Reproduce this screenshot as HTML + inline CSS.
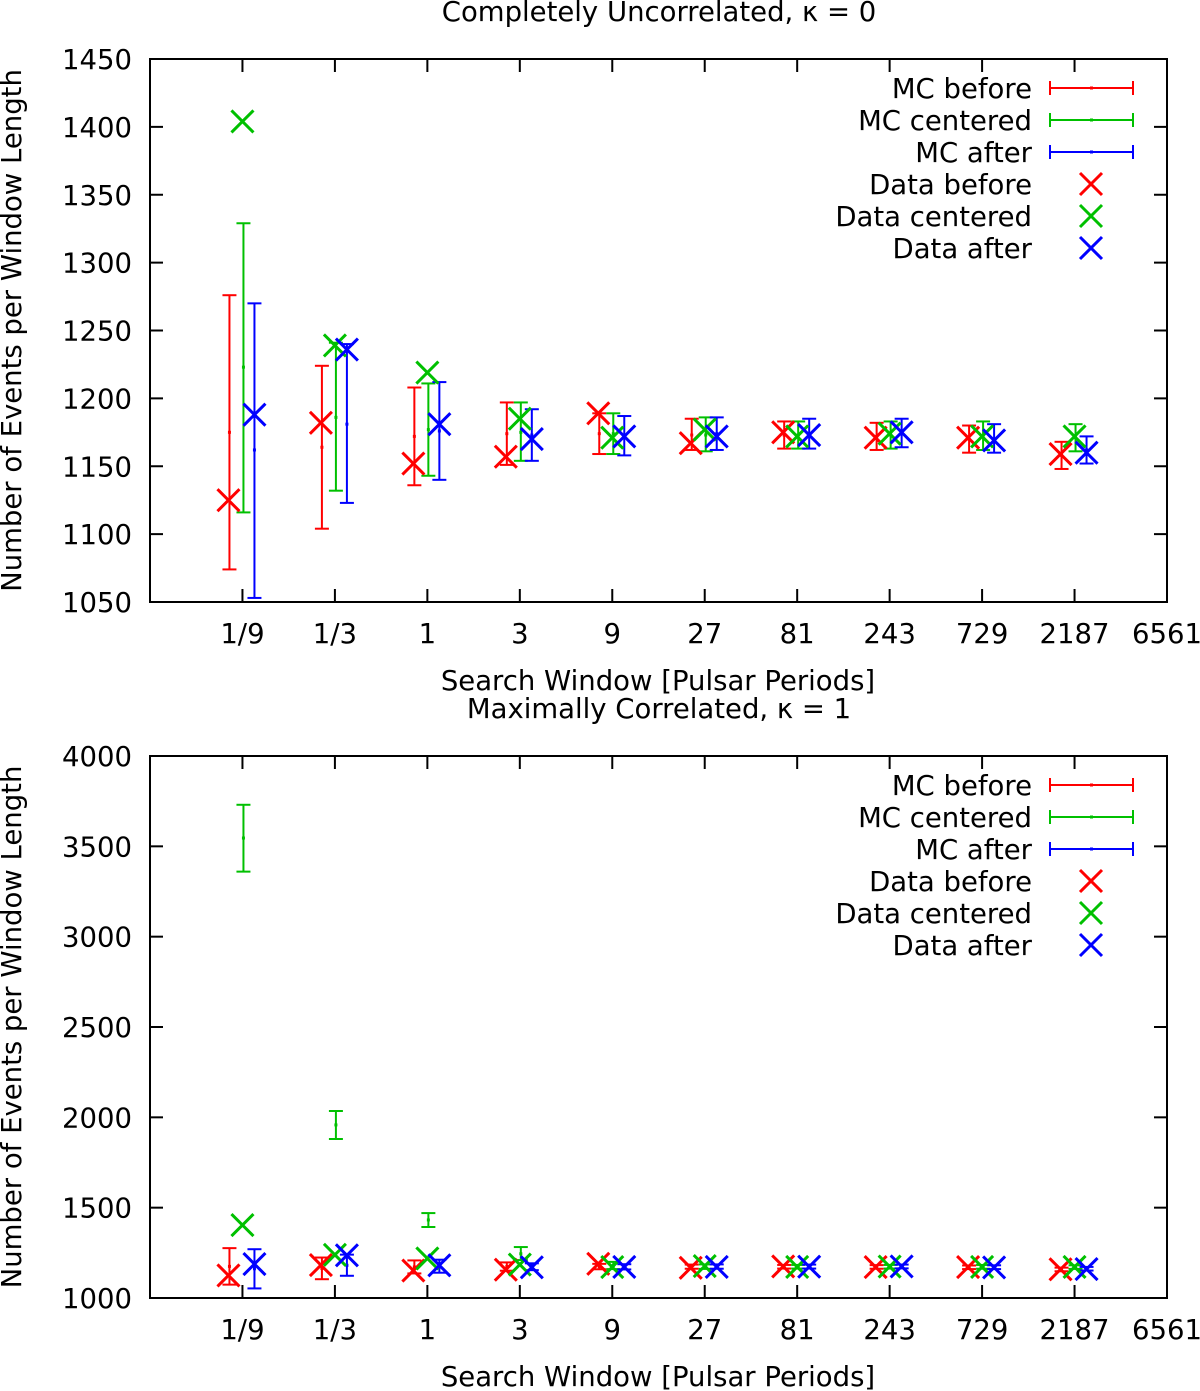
<!DOCTYPE html>
<html><head><meta charset="utf-8"><style>
html,body{margin:0;padding:0;background:#fff;}
svg{display:block;font-family:"DejaVu Sans","Liberation Sans",sans-serif;}
</style></head><body>
<svg id="chart" width="1200" height="1391" xmlns="http://www.w3.org/2000/svg"></svg>
<script>
const categories = ["1/9","1/3","1","3","9","27","81","243","729","2187","6561"];
// top panel MC: center, low, high
const mcBeforeC = [1175,1164,1172,1174,1174,1173,1173,1172,1170,1158];
const mcBeforeLo = [1074,1104,1136,1151,1159,1162,1163,1162,1160,1148];
const mcBeforeHi = [1276,1224,1208,1197,1189,1185,1183,1182,1180,1168];
const mcCenterC = [1223,1186,1177,1175,1174,1173,1173,1173,1172,1171];
const mcCenterLo = [1116,1132,1143,1154,1159,1161,1163,1163,1162,1161];
const mcCenterHi = [1329,1241,1211,1197,1189,1186,1183,1183,1183,1181];
const mcAfterC = [1162,1181,1176,1173,1172,1174,1174,1174,1170,1162];
const mcAfterLo = [1053,1123,1140,1154,1158,1162,1163,1164,1160,1152];
const mcAfterHi = [1270,1240,1212,1192,1187,1186,1185,1185,1181,1172];
// bottom panel MC centered
const mcCenter2C = [3546,1958,1432,1245,1180,1175,1173,1173,1172,1171];
const mcCenter2Lo = [3360,1880,1393,1210,1160,1161,1163,1163,1162,1161];
const mcCenter2Hi = [3730,2035,1470,1282,1200,1186,1183,1183,1183,1181];
// data points
const dataBefore = [1125,1182,1152,1157,1189,1167,1175,1171,1171,1159];
const dataCenter = [1404,1239,1219,1185,1171,1177,1172,1174,1172,1172];
const dataAfter = [1188,1236,1181,1170,1172,1172,1173,1175,1169,1160];
const yTicksTop = [1050,1100,1150,1200,1250,1300,1350,1400,1450];
const yTicksBot = [1000,1500,2000,2500,3000,3500,4000];

const NS="http://www.w3.org/2000/svg";
const svg=document.getElementById('chart');
function el(tag,attrs,parent){const e=document.createElementNS(NS,tag);for(const k in attrs)e.setAttribute(k,attrs[k]);(parent||svg).appendChild(e);return e;}
const X0=150,X1=1167,FS=27.5;
function xScale(i){return X0+(i+1)*(X1-X0)/11;}
const RED="#ff0000",GREEN="#00c000",BLUE="#0000ff";

function panel(name,top,bot,ymin,ymax,yticks,title,cen){
  const g=el('g',{});
  
  
  const ys=v=>bot-(v-ymin)*(bot-top)/(ymax-ymin);
  const t=el('text',{x:659,y:top-38,'text-anchor':'middle','font-size':FS},g);t.textContent=title;
  
  
  const fr=el('rect',{x:X0,y:top,width:X1-X0,height:bot-top,fill:'none',stroke:'#000','stroke-width':2},g);
  
  
  yticks.forEach(v=>{
    const y=ys(v);
    el('line',{x1:X0,x2:X0+13,y1:y,y2:y,stroke:'#000','stroke-width':2},g);
    el('line',{x1:X1-13,x2:X1,y1:y,y2:y,stroke:'#000','stroke-width':2},g);
    const tt=el('text',{x:132,y:y+10,'text-anchor':'end','font-size':FS},g);tt.textContent=v;
    
    
  });
  categories.forEach((c,i)=>{
    const x=xScale(i);
    el('line',{x1:x,x2:x,y1:bot,y2:bot-13,stroke:'#000','stroke-width':2},g);
    if(i<10) el('line',{x1:x,x2:x,y1:top,y2:top+13,stroke:'#000','stroke-width':2},g);
    const tt=el('text',{x:x,y:bot+41,'text-anchor':'middle','font-size':FS},g);tt.textContent=c;
    
    
  });
  const xl=el('text',{x:658,y:bot+88,'text-anchor':'middle','font-size':FS},g);xl.textContent="Search Window [Pulsar Periods]";
  
  
  const yl=el('text',{x:0,y:0,'text-anchor':'middle','font-size':FS,transform:`translate(21,${(top+bot)/2}) rotate(-90)`},g);yl.textContent="Number of Events per Window Length";
  
  
  function ebar(x,c,lo,hi,col,nm){
    const b=el('g',{stroke:col,'stroke-width':2},g);
    
    
    el('line',{x1:x,x2:x,y1:ys(lo),y2:ys(hi)},b);
    el('line',{x1:x-7,x2:x+7,y1:ys(lo),y2:ys(lo)},b);
    el('line',{x1:x-7,x2:x+7,y1:ys(hi),y2:ys(hi)},b);
    el('rect',{x:x-1.5,y:ys(c)-1.5,width:3,height:3,fill:col,stroke:'none'},b);
  }
  function cross(x,v,col,nm){
    const y=ys(v),s=11;
    const p=el('path',{d:`M${x-s},${y-s}L${x+s},${y+s}M${x-s},${y+s}L${x+s},${y-s}`,stroke:col,'stroke-width':3,fill:'none'},g);
    
    
  }
  for(let i=0;i<10;i++){
    const x=xScale(i);
    ebar(x-13,mcBeforeC[i],mcBeforeLo[i],mcBeforeHi[i],RED,'mc-before-bar');
    ebar(x+1,cen[0][i],cen[1][i],cen[2][i],GREEN,'mc-centered-bar');
    ebar(x+12,mcAfterC[i],mcAfterLo[i],mcAfterHi[i],BLUE,'mc-after-bar');
    cross(x-14,dataBefore[i],RED,'data-before-point');
    cross(x,dataCenter[i],GREEN,'data-centered-point');
    cross(x+12,dataAfter[i],BLUE,'data-after-point');
  }
  const labels=["MC before","MC centered","MC after","Data before","Data centered","Data after"];
  const cols=[RED,GREEN,BLUE,RED,GREEN,BLUE];
  labels.forEach((lab,k)=>{
    const y=top+29+k*32;
    const lt=el('text',{x:1032,y:y+10,'text-anchor':'end','font-size':FS},g);lt.textContent=lab;
    
    
    if(k<3){
      el('line',{x1:1050,x2:1133,y1:y,y2:y,stroke:cols[k],'stroke-width':2},g);
      el('line',{x1:1050,x2:1050,y1:y-7,y2:y+7,stroke:cols[k],'stroke-width':2},g);
      el('line',{x1:1133,x2:1133,y1:y-7,y2:y+7,stroke:cols[k],'stroke-width':2},g);
      el('rect',{x:1090,y:y-1.5,width:3,height:3,fill:cols[k]},g);
    } else {
      const s=11,x=1091;
      el('path',{d:`M${x-s},${y-s}L${x+s},${y+s}M${x-s},${y+s}L${x+s},${y-s}`,stroke:cols[k],'stroke-width':3,fill:'none'},g);
    }
  });
}
panel('top-panel',59,602,1050,1450,yTicksTop,"Completely Uncorrelated, \u03ba = 0",[mcCenterC,mcCenterLo,mcCenterHi]);
panel('bottom-panel',756,1298,1000,4000,yTicksBot,"Maximally Correlated, \u03ba = 1",[mcCenter2C,mcCenter2Lo,mcCenter2Hi]);
</script>
</body></html>
